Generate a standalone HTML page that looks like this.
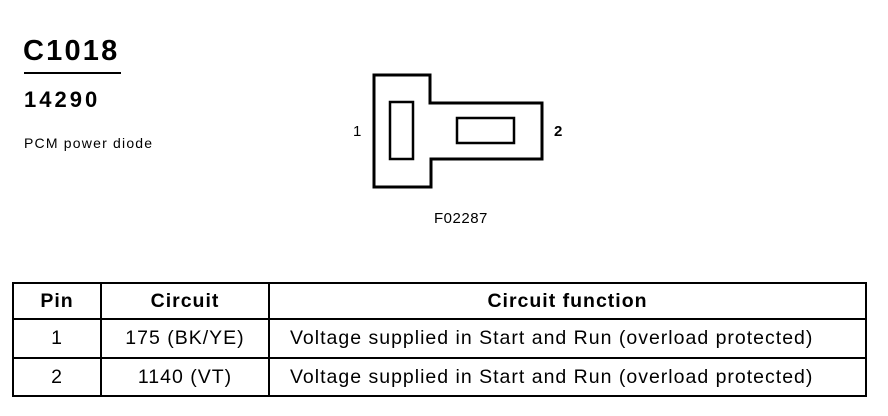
<!DOCTYPE html>
<html><head><style>
body{margin:0;width:888px;height:416px;background:#fff;position:relative;font-family:"Liberation Sans",Arial,sans-serif;color:#000;overflow:hidden}
.t{position:absolute;white-space:nowrap;line-height:1}
table{position:absolute;left:12px;top:282px;border-collapse:collapse;width:855px}
td{border:2px solid #000;text-align:center;font-size:19.5px;letter-spacing:1px;padding:0}
td.f{text-align:left;padding-left:20px}
</style></head><body>
<div class="t" style="left:23px;top:37px;font-size:29px;font-weight:bold;letter-spacing:2.2px">C1018</div>
<div style="position:absolute;left:24px;top:72px;width:97px;height:2px;background:#000"></div>
<div class="t" style="left:24px;top:89px;font-size:22px;font-weight:bold;letter-spacing:3px">14290</div>
<div class="t" style="left:24px;top:136px;font-size:14px;letter-spacing:1.2px">PCM power diode</div>
<svg style="position:absolute;left:0;top:0" width="888" height="416">
<polygon points="374,75 430,75 430,103 542,103 542,159 431,159 431,187 374,187" fill="none" stroke="#000" stroke-width="3"/>
<rect x="390" y="102" width="23" height="57" fill="none" stroke="#000" stroke-width="2.5"/>
<rect x="457" y="118" width="57" height="25" fill="none" stroke="#000" stroke-width="2.5"/>
</svg>
<div class="t" style="left:353px;top:124px;font-size:15px">1</div>
<div class="t" style="left:554px;top:124px;font-size:15px;font-weight:bold">2</div>
<div class="t" style="left:434px;top:211px;font-size:15px;letter-spacing:0.5px">F02287</div>
<table>
<tr style="height:36px"><td style="width:86px;font-weight:bold">Pin</td><td style="width:166px;font-weight:bold">Circuit</td><td style="font-weight:bold">Circuit function</td></tr>
<tr style="height:39px"><td>1</td><td>175 (BK/YE)</td><td class="f">Voltage supplied in Start and Run (overload protected)</td></tr>
<tr style="height:38px"><td>2</td><td>1140 (VT)</td><td class="f">Voltage supplied in Start and Run (overload protected)</td></tr>
</table>
</body></html>
